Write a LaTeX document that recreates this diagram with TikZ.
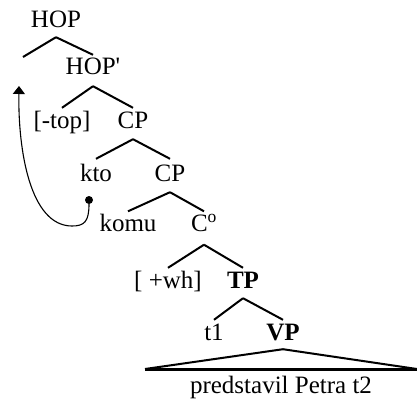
\documentclass[tikz,border=0pt]{standalone}
\usepackage{fontspec}
\setmainfont{Liberation Serif}
\usetikzlibrary{arrows.meta,positioning}

\tikzset{
  lab/.style={inner sep=0pt, text height=16pt, text depth=0pt, font=\fontsize{25}{28}\selectfont},
  branch/.style={line width=2pt},
}

\begin{document}
\begin{tikzpicture}[x=1pt,y=-1pt]
    \useasboundingbox (0,0) rectangle (417,400);

    % Labels of the tree
    \node[lab] (hop) at (56,19) {HOP};
    \node[lab] (hopbar) at (93,66) {HOP\textquotesingle};
    \node[lab] (top) at (62,120) {[-top]};
    \node[lab] (cpA) at (133,120) {CP};
    \node[lab] (kto) at (96,173) {kto};
    \node[lab] (cpB) at (170,173) {CP};
    \node[lab] (komu) at (128,223.5) {komu};
    \node[lab] (cbar) at (204,223.5) {C\textsuperscript{o}};
    \node[lab] (wh) at (168,280) {[ +wh]};
    \node[lab] (tp) at (243,280) {\textbf{TP}};
    \node[lab] (tone) at (214,332) {t1};
    \node[lab] (vp) at (283,332) {\textbf{VP}};
    \node[lab] (words) at (281,385) {predstavil Petra t2};
    \coordinate (hopleft) at (23,57);

    % Branches
    \draw[branch] ([yshift=-10pt]hop.south) -- (hopleft);
    \draw[branch] ([yshift=-10pt]hop.south) -- ([yshift=3pt]hopbar.north);
    \draw[branch] ([yshift=-12pt]hopbar.south) -- ([yshift=4pt]top.north);
    \draw[branch] ([yshift=-12pt]hopbar.south) -- ([yshift=4pt]cpA.north);
    \draw[branch] ([yshift=-11pt]cpA.south) -- ([yshift=6pt]kto.north);
    \draw[branch] ([yshift=-11pt]cpA.south) -- ([yshift=6pt]cpB.north);
    \draw[branch] ([yshift=-11pt]cpB.south) -- ([yshift=4pt]komu.north);
    \draw[branch] ([yshift=-11pt]cpB.south) -- ([yshift=4pt]cbar.north);
    \draw[branch] ([yshift=-13pt]cbar.south) -- ([yshift=4pt]wh.north);
    \draw[branch] ([yshift=-13pt]cbar.south) -- ([yshift=4pt]tp.north);
    \draw[branch] ([yshift=-10pt]tp.south) -- ([yshift=4pt]tone.north);
    \draw[branch] ([yshift=-10pt]tp.south) -- ([yshift=4pt]vp.north);

    % Triangle over the VP
    \coordinate (vpleft) at (145,369);
    \coordinate (vpright) at (417,369);
    \draw[branch] (vpleft) -- ([yshift=-9pt]vp.south) -- (vpright);
    \draw[line width=3pt] (vpleft) -- (vpright);

    % Movement of kto
    \node[circle, fill, inner sep=0pt, minimum size=8pt] (trace) at (89,200) {};
    \coordinate (landing) at (19,86);
    \draw[-{Triangle[width=12pt,length=8pt]}, line width=1.1pt] (trace.south)
        .. controls (89,222) and (84,226) .. (72,226)
        .. controls (30,226) and (18,150) .. (landing);
\end{tikzpicture}
\end{document}
